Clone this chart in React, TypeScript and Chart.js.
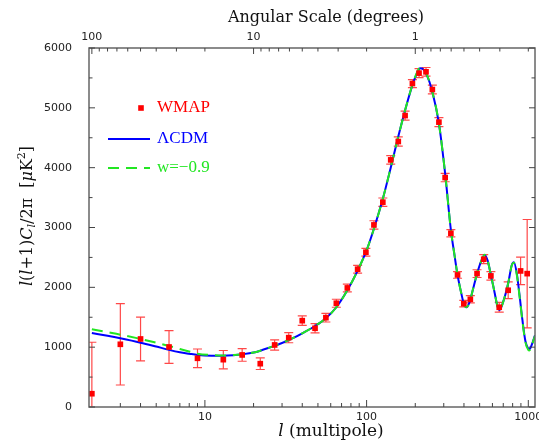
import React, { useEffect, useRef } from 'react';
import { Chart, registerables } from 'chart.js';
Chart.register(...registerables);

// ---- data ----
const wmapL = [2, 3, 4, 6, 9, 13, 17, 22, 27, 33, 40, 48, 56, 65, 76, 88, 99, 111, 126, 141, 157, 173, 192, 211, 233, 255, 280, 306, 332, 365, 399, 438, 482, 530, 587, 661, 751, 896, 984];
const wmapPower = [222, 1048, 1137, 1003, 814, 791, 870, 724, 1037, 1159, 1443, 1316, 1493, 1734, 1990, 2303, 2587, 3043, 3423, 4130, 4437, 4871, 5406, 5580, 5602, 5306, 4761, 3835, 2904, 2207, 1727, 1800, 2229, 2470, 2191, 1667, 1951, 2274, 2229];
const wmapErr = [860, 680, 365, 273, 155, 153, 105, 97, 85, 85, 80, 78, 72, 67, 65, 65, 65, 70, 70, 72, 78, 75, 67, 75, 72, 72, 75, 70, 60, 55, 55, 60, 65, 75, 70, 80, 140, 230, 905];

const lcdmL = [2, 2.5, 3, 4, 5, 6, 7, 8, 9, 11, 13, 15, 17, 20, 22, 25, 30, 35, 40, 48, 56, 65, 76, 88, 100, 111, 126, 141, 157, 173, 192, 205, 214, 225, 235, 255, 280, 306, 332, 350, 365, 385, 400, 414, 430, 460, 482, 510, 537, 560, 587, 620, 645, 665, 700, 751, 790, 815, 850, 880, 920, 960, 1000, 1016, 1050, 1100];
const lcdmPower = [1237, 1190, 1148, 1075, 1010, 955, 915, 890, 870, 858, 858, 866, 881, 910, 941, 992, 1070, 1150, 1232, 1354, 1483, 1667, 1950, 2280, 2620, 2980, 3480, 4000, 4520, 4960, 5380, 5580, 5660, 5640, 5560, 5270, 4740, 3900, 2960, 2530, 2207, 1900, 1720, 1667, 1730, 2020, 2229, 2430, 2542, 2450, 2207, 1901, 1680, 1622, 1761, 2068, 2370, 2420, 2220, 1900, 1450, 1100, 975, 965, 1040, 1200];

const wL = [2, 2.5, 3, 4, 5, 6, 7, 8, 9, 11, 13, 15, 17, 20, 22, 25, 30, 35, 40, 48, 56, 65, 76, 88, 100, 111, 126, 141, 157, 173, 192, 205, 214, 225, 235, 255, 280, 306, 332, 350, 365, 385, 400, 414, 430, 460, 482, 510, 537, 560, 587, 620, 645, 665, 700, 751, 790, 815, 850, 880, 920, 960, 1000, 1016, 1050, 1100];
const wPower = [1299, 1250, 1209, 1137, 1075, 1020, 970, 928, 891, 868, 862, 868, 881, 910, 941, 992, 1070, 1150, 1232, 1354, 1483, 1667, 1950, 2280, 2620, 2980, 3480, 4000, 4520, 4960, 5385, 5590, 5675, 5650, 5565, 5270, 4740, 3900, 2960, 2530, 2207, 1900, 1720, 1667, 1730, 2020, 2229, 2430, 2545, 2450, 2207, 1901, 1680, 1622, 1761, 2068, 2370, 2410, 2200, 1880, 1430, 1080, 955, 945, 1030, 1190];

const bottomLabels = [10, 100, 1000];
const bottomMinor = [3, 4, 5, 6, 7, 8, 9, 20, 30, 40, 50, 60, 70, 80, 90, 200, 300, 400, 500, 600, 700, 800, 900];
const topDegreeLabels = [100, 10, 1];
const topDegreeMinor = [90, 80, 70, 60, 50, 40, 30, 20, 9, 8, 7, 6, 5, 4, 3, 2, 0.9, 0.8, 0.7, 0.6, 0.5, 0.4, 0.3, 0.2];
const yMajor = [0, 1000, 2000, 3000, 4000, 5000, 6000];
const yMinor = [500, 1500, 2500, 3500, 4500, 5500];

const xMin = 1.92;
const xMax = 1100;
const degToL = (d: number) => 200 / d;

const RED = '#ff0000';
const BLUE = '#0000ff';
const GREEN = '#22e622';
const SERIF = '"DejaVu Serif", serif';
const LSERIF = '"Liberation Serif", serif';
const SANS = '"DejaVu Sans", sans-serif';

function drawSegments(ctx: CanvasRenderingContext2D, segs: { t: string; f: string; dy?: number }[], cx: number, cy: number) {
  let total = 0;
  for (const s of segs) { ctx.font = s.f; total += ctx.measureText(s.t).width; }
  let x = cx - total / 2;
  ctx.textBaseline = 'middle';
  ctx.textAlign = 'left';
  for (const s of segs) {
    ctx.font = s.f;
    ctx.fillText(s.t, x, cy + (s.dy || 0));
    x += ctx.measureText(s.t).width;
  }
}

const decorPlugin = {
  id: 'decor',
  beforeDatasetsDraw(chart: any) {
    const { ctx, chartArea: a, scales } = chart;
    const xs = scales.x, ys = scales.y;
    ctx.save();
    ctx.beginPath();
    ctx.rect(a.left, a.top, a.right - a.left, a.bottom - a.top);
    ctx.clip();
    ctx.strokeStyle = 'rgba(255,40,40,0.85)';
    ctx.lineWidth = 1.2;
    wmapL.forEach((l, i) => {
      const px = xs.getPixelForValue(l);
      const yt = ys.getPixelForValue(wmapPower[i] + wmapErr[i]);
      const yb = ys.getPixelForValue(wmapPower[i] - wmapErr[i]);
      ctx.beginPath();
      ctx.moveTo(px, yt); ctx.lineTo(px, yb);
      ctx.moveTo(px - 4.5, yt); ctx.lineTo(px + 4.5, yt);
      ctx.moveTo(px - 4.5, yb); ctx.lineTo(px + 4.5, yb);
      ctx.stroke();
    });
    ctx.restore();
  },
  afterDraw(chart: any) {
    const { ctx, chartArea: a, scales } = chart;
    const xs = scales.x, ys = scales.y;
    ctx.save();
    // frame
    ctx.strokeStyle = '#666';
    ctx.lineWidth = 1.5;
    ctx.strokeRect(a.left, a.top, a.right - a.left, a.bottom - a.top);
    ctx.lineWidth = 1;
    ctx.strokeStyle = '#444';
    const vtick = (px: number, len: number) => {
      ctx.beginPath();
      ctx.moveTo(px, a.bottom); ctx.lineTo(px, a.bottom - len);
      ctx.stroke();
    };
    bottomLabels.forEach((v) => vtick(xs.getPixelForValue(v), 7));
    bottomMinor.forEach((v) => vtick(xs.getPixelForValue(v), 4));
    const ttick = (px: number, len: number) => {
      ctx.beginPath();
      ctx.moveTo(px, a.top); ctx.lineTo(px, a.top + len);
      ctx.stroke();
    };
    topDegreeLabels.forEach((d) => ttick(xs.getPixelForValue(degToL(d)), 6));
    topDegreeMinor.forEach((d) => { const l = degToL(d); if (l < xMax) ttick(xs.getPixelForValue(l), 3.5); });
    const htick = (py: number, len: number) => {
      ctx.beginPath();
      ctx.moveTo(a.left, py); ctx.lineTo(a.left + len, py);
      ctx.moveTo(a.right, py); ctx.lineTo(a.right - len, py);
      ctx.stroke();
    };
    yMajor.forEach((v) => htick(ys.getPixelForValue(v), 6));
    yMinor.forEach((v) => htick(ys.getPixelForValue(v), 3.5));

    // top (angular scale) and bottom (multipole) tick labels
    ctx.fillStyle = '#222';
    ctx.font = `11px ${SANS}`;
    ctx.textAlign = 'center';
    ctx.textBaseline = 'middle';
    topDegreeLabels.forEach((d) => ctx.fillText(String(d), xs.getPixelForValue(degToL(d)), 37));
    bottomLabels.forEach((v) => ctx.fillText(String(v), xs.getPixelForValue(v), 417));

    // titles
    ctx.fillStyle = '#111';
    drawSegments(ctx, [{ t: 'Angular Scale (degrees)', f: `16px ${SERIF}` }], 326, 18);
    drawSegments(ctx, [
      { t: 'l', f: `italic 17px ${SERIF}` },
      { t: ' (multipole)', f: `17px ${SERIF}` },
    ], 331, 432);
    ctx.save();
    ctx.translate(28, 216);
    ctx.rotate(-Math.PI / 2);
    drawSegments(ctx, [
      { t: 'l', f: `italic 16px ${SERIF}` },
      { t: '(', f: `16px ${SERIF}` },
      { t: 'l', f: `italic 16px ${SERIF}` },
      { t: '+1)', f: `16px ${SERIF}` },
      { t: 'C', f: `italic 16px ${SERIF}` },
      { t: 'l', f: `italic 11px ${SERIF}`, dy: 4 },
      { t: '/2π  [', f: `16px ${SERIF}` },
      { t: 'μ', f: `italic 16px ${SERIF}` },
      { t: 'K', f: `16px ${SERIF}` },
      { t: '2', f: `11px ${SERIF}`, dy: -6 },
      { t: ']', f: `16px ${SERIF}` },
    ], 0, 0);
    ctx.restore();

    // legend
    ctx.fillStyle = RED;
    ctx.fillRect(141 - 2.8, 108 - 2.8, 5.6, 5.6);
    ctx.font = `17px ${LSERIF}`;
    ctx.textBaseline = 'middle';
    ctx.textAlign = 'left';
    ctx.fillText('WMAP', 157, 108);
    ctx.strokeStyle = BLUE;
    ctx.lineWidth = 2;
    ctx.beginPath(); ctx.moveTo(108, 139); ctx.lineTo(150, 139); ctx.stroke();
    ctx.fillStyle = BLUE;
    ctx.fillText('ΛCDM', 157, 139);
    ctx.strokeStyle = GREEN;
    ctx.setLineDash([11, 7]);
    ctx.beginPath(); ctx.moveTo(108, 168); ctx.lineTo(150, 168); ctx.stroke();
    ctx.setLineDash([]);
    ctx.fillStyle = GREEN;
    ctx.fillText('w=−0.9', 157, 168);
    ctx.restore();
  },
};

export default function App() {
  const ref = useRef<HTMLCanvasElement | null>(null);
  useEffect(() => {
    if (!ref.current) return;
    const chart = new Chart(ref.current, {
      type: 'line',
      data: {
        datasets: [
          {
            label: 'WMAP',
            data: wmapL.map((l, i) => ({ x: l, y: wmapPower[i] })),
            showLine: false,
            pointStyle: 'rect',
            pointRadius: 4,
            pointBackgroundColor: RED,
            pointBorderColor: RED,
            pointBorderWidth: 0,
            order: 0,
          },
          {
            label: 'w=-0.9',
            data: wL.map((l, i) => ({ x: l, y: wPower[i] })),
            borderColor: GREEN,
            borderWidth: 2,
            borderDash: [11, 7],
            pointRadius: 0,
            cubicInterpolationMode: 'monotone',
            fill: false,
            order: 1,
          },
          {
            label: 'LCDM',
            data: lcdmL.map((l, i) => ({ x: l, y: lcdmPower[i] })),
            borderColor: BLUE,
            borderWidth: 2,
            pointRadius: 0,
            cubicInterpolationMode: 'monotone',
            fill: false,
            order: 2,
          },
        ],
      },
      options: {
        responsive: false,
        animation: false,
        layout: { padding: { top: 48, right: 2, bottom: 0, left: 0 } },
        plugins: { legend: { display: false }, tooltip: { enabled: false }, title: { display: false } },
        scales: {
          x: {
            type: 'logarithmic',
            position: 'bottom',
            min: xMin,
            max: xMax,
            grid: { display: false },
            border: { display: false },
            afterBuildTicks: (s: any) => { s.ticks = bottomLabels.map((v) => ({ value: v })); },
            ticks: { display: false },
            afterFit: (s: any) => { s.height = 40; s.paddingLeft = 0; s.paddingRight = 0; },
          },
          y: {
            type: 'linear',
            position: 'left',
            min: 0,
            max: 6000,
            grid: { display: false },
            border: { display: false },
            afterBuildTicks: (s: any) => { s.ticks = yMajor.map((v) => ({ value: v })); },
            ticks: { callback: (v: any) => String(v), font: { family: 'DejaVu Sans', size: 11 }, color: '#222', padding: 9 },
            afterFit: (s: any) => { s.width = 89; s.paddingTop = 0; s.paddingBottom = 0; },
          },
        },
      },
      plugins: [decorPlugin],
    } as any);
    return () => chart.destroy();
  }, []);
  return (
    <div style={{ position: 'fixed', left: 0, top: 0, width: 539, height: 447, background: '#fff' }}>
      <canvas ref={ref} width={539} height={447} style={{ width: 539, height: 447, display: 'block' }} />
    </div>
  );
}
